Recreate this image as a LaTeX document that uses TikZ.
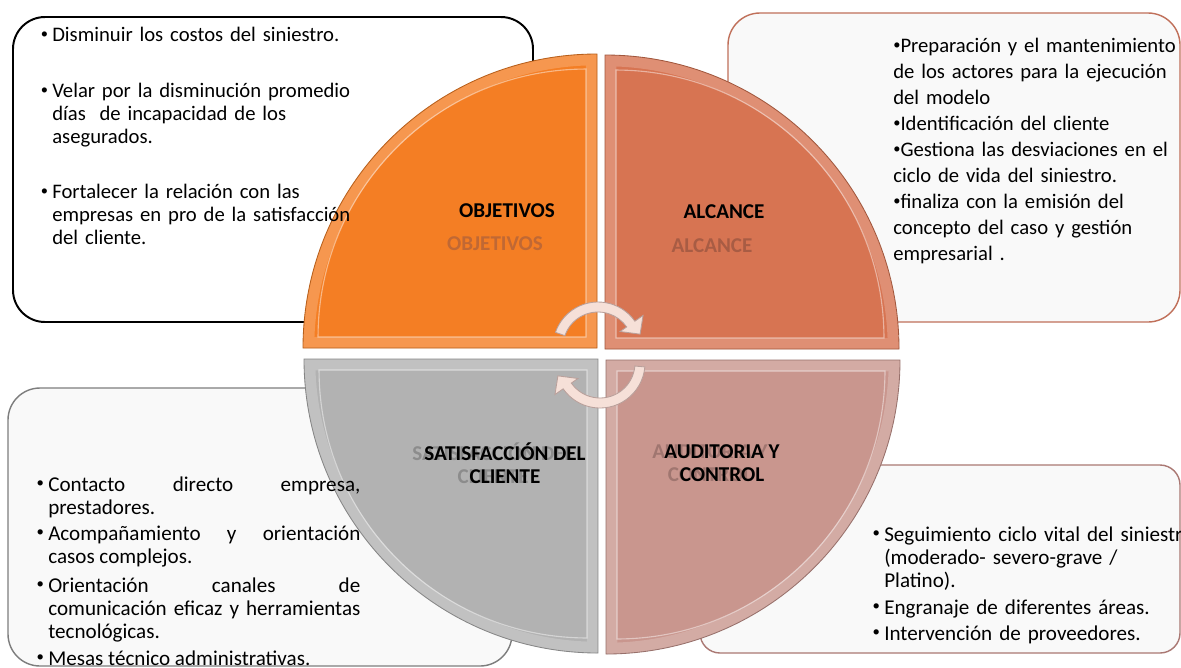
\documentclass[tikz,border=0pt]{standalone}
\usepackage{fontspec}
\usepackage{graphicx}
\setmainfont{Carlito}
\usetikzlibrary{positioning}

\definecolor{objorange}{RGB}{244,126,36}
\definecolor{alcbrown}{RGB}{215,116,82}
\definecolor{satgray}{RGB}{178,178,178}
\definecolor{audrose}{RGB}{201,150,142}
\definecolor{objghost}{RGB}{192,104,52}
\definecolor{alcghost}{RGB}{168,92,68}
\definecolor{satghost}{RGB}{140,140,140}
\definecolor{audghost}{RGB}{160,118,112}
\definecolor{arrowpink}{RGB}{246,224,216}
\definecolor{arrowedge}{RGB}{185,160,155}
\definecolor{boxfill}{RGB}{249,249,249}

\newcommand{\dotbullet}{\raisebox{0.3ex}{\scalebox{0.7}{•}}}

\tikzset{
  infobox/.style={rounded corners=0.8cm, line width=1pt, fill=boxfill},
  bodytext/.style={font=\fontsize{14.7}{16.4}\selectfont, inner sep=0pt, anchor=base west, align=left},
  quadlabel/.style={font=\fontsize{15}{16.4}\selectfont\bfseries, align=center, inner sep=0pt},
}

\begin{document}
\begin{tikzpicture}[x=0.025cm, y=-0.025cm]
\useasboundingbox (0,0) rectangle (1181,667);
\fill[white] (0,0) rectangle (1181,667);
%\draw[help lines] (0,0) grid[step=50] (1181,667);
% boxes behind the circle
\draw[infobox, fill=white, line width=1.4pt] (13,17) rectangle (533,322);
\draw[infobox, draw={rgb,255:red,192;green,112;blue,90}] (728,13) rectangle (1180,322);
\draw[infobox, draw={rgb,255:red,125;green,125;blue,125}] (8,388) rectangle (512,666);
\draw[infobox, draw={rgb,255:red,170;green,120;blue,115}, rounded corners=0.5cm] (700,465) rectangle (1180,653);
% four quadrants
\foreach \cx/\cy/\sa/\col in {597/348/180/objorange, 605/349/270/alcbrown, 606/360/0/audrose, 598/359/90/satgray}{
  \begin{scope}
    \clip (\cx,\cy) -- ++(\sa:294) arc[start angle=\sa, delta angle=90, radius=294] -- cycle;
    \fill[\col] (\cx,\cy) -- ++(\sa:294) arc[start angle=\sa, delta angle=90, radius=294] -- cycle;
    \draw[white, opacity=.2, line width=16pt] (\cx,\cy) -- ++(\sa:294) arc[start angle=\sa, delta angle=90, radius=294] -- cycle;
    % bevel crease
    \draw[white, opacity=.45, line width=0.8pt] (\cx,\cy) ++(\sa+45:15.5) -- ++(\sa:268) arc[start angle=\sa, delta angle=90, radius=268] -- cycle;
  \end{scope}
  \draw[\col!75!black, line width=0.6pt] (\cx,\cy) -- ++(\sa:294) arc[start angle=\sa, delta angle=90, radius=294] -- cycle;
}
% cycle arrows
\begin{scope}[shift={(598,347)}]
\filldraw[fill=arrowpink, draw=arrowedge, line width=0.6pt]
  (199:35) arc[start angle=199, end angle=325, radius=35]
  -- (325:27) -- (343:44) -- (325:55) -- (325:45)
  arc[start angle=325, end angle=199, radius=45] -- cycle;
\end{scope}
\begin{scope}[shift={(600,363)}]
\filldraw[fill=arrowpink, draw=arrowedge, line width=0.6pt]
  (5:35) arc[start angle=5, end angle=145, radius=35]
  -- (145:27) -- (163:44) -- (145:55) -- (145:45)
  arc[start angle=145, end angle=5, radius=45] -- cycle;
\end{scope}
% labels
\node[quadlabel, text=objghost] (objghost) at (495,244) {OBJETIVOS};
\node[quadlabel] (objlabel) at (507,211) {OBJETIVOS};
\node[quadlabel, text=alcghost] (alcghost) at (712,246) {ALCANCE};
\node[quadlabel] (alclabel) at (724,212) {ALCANCE};
\node[quadlabel, text=satghost] (satghost) at (493,463) {SATISFACCIÓN DEL\\CLIENTE};
\node[quadlabel] (satlabel) at (505,463) {SATISFACCIÓN DEL\\CLIENTE};
\node[quadlabel, text=audghost] (audghost) at (710,463) {AUDITORIA Y\\CONTROL};
\node[quadlabel] (audlabel) at (722,463) {AUDITORIA Y\\CONTROL};
% texts
\foreach \yy/\txt [count=\i] in {41/{Disminuir los costos del siniestro.},
  97/{Velar por la disminución promedio\\días~ de incapacidad de los\\asegurados.},
  198/{Fortalecer la relación con las\\empresas en pro de la satisfacción\\del cliente.}}
  \node[bodytext, text width=8.5cm] (obj\i) at (52,\yy) {\llap{\dotbullet\hspace{3pt}}\txt};
\node[bodytext, text width=8.5cm, font=\fontsize{14.7}{18.5}\selectfont] (alctext) at (893,52)
  {\dotbullet Preparación y el mantenimiento\\de los actores para la ejecución\\del modelo\\\dotbullet Identificación del cliente\\\dotbullet Gestiona las desviaciones en el\\ciclo de vida del siniestro.\\\dotbullet finaliza con la emisión del\\concepto del caso y gestión\\empresarial .};
\foreach \yy/\txt [count=\i] in {491/{Contacto directo empresa,\linebreak prestadores.},
  540/{Acompañamiento y orientación\linebreak casos complejos.},
  592/{Orientación canales de\linebreak comunicación eficaz y herramientas\linebreak tecnológicas.},
  665/{Mesas técnico administrativas.}}
  \node[bodytext, align=justify, text width=7.8cm, font=\fontsize{15}{16.6}\selectfont] (sat\i) at (48,\yy) {\llap{\dotbullet\hspace{3pt}}\txt};
\foreach \yy/\txt [count=\i] in {541/{Seguimiento ciclo vital del siniestro\\(moderado- severo-grave /\\Platino).},
  614/{Engranaje de diferentes áreas.},
  640/{Intervención de proveedores.}}
  \node[bodytext, text width=9cm, font=\fontsize{15}{16.4}\selectfont] (aud\i) at (884,\yy) {\llap{\dotbullet\hspace{3pt}}\txt};
\end{tikzpicture}
\end{document}
